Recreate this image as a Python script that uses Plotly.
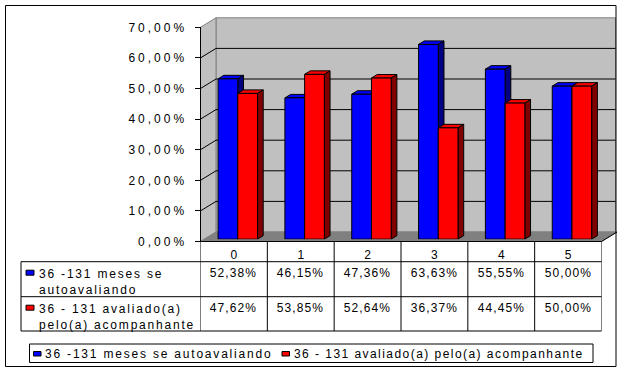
import json
import plotly.graph_objects as go

# ---------------- data ----------------
categories = ["0", "1", "2", "3", "4", "5"]
series_names = ["36 -131 meses se autoavaliando",
                "36 - 131 avaliado(a) pelo(a) acompanhante"]
row_labels = ["36 -131 meses se<br>autoavaliando",
              "36 - 131 avaliado(a)<br>pelo(a) acompanhante"]
autoavaliando = [0.5238, 0.4615, 0.4736, 0.6363, 0.5555, 0.5000]
acompanhante = [0.4762, 0.5385, 0.5264, 0.3637, 0.4445, 0.5000]
y_ticks = [0.0, 0.1, 0.2, 0.3, 0.4, 0.5, 0.6, 0.7]

series = [autoavaliando, acompanhante]
front_colors = ["#0000FF", "#FF0000"]
side_colors = ["#000080", "#800000"]

# ---------------- geometry (pixels) ----------------
W, H = 624, 376
def px(x):
    return x / W
def py(y):
    return 1 - y / H

FX0, FX1 = 200.5, 601.5          # front plane x extent
FY0, FYTOP = 241.5, 27.3          # front plane y of 0% and 70%
DPX, DPY = 15.5, 9.5              # full depth offset
BOFF = 0.25                       # bars' front face depth fraction
BDX, BDY = 5.7, 3.5               # bar depth in pixels
YMAX = 0.7
ypx_per_unit = (FY0 - FYTOP) / YMAX
cat_px = (FX1 - FX0) / len(categories)

BAR_GAP = 0.41
bw = (1 - BAR_GAP) / 2
DX = BDX / cat_px
DY = BDY / ypx_per_unit
BACK_DY = DPY / ypx_per_unit

font = dict(family="Liberation Sans, Arial, sans-serif", size=12, color="black")

fig = go.Figure()

# dummy traces so subplot order is xy, x2y2, x3y3
fig.add_trace(go.Scatter(x=[None], y=[None], xaxis="x", yaxis="y", showlegend=False, hoverinfo="skip"))
fig.add_trace(go.Scatter(x=[None], y=[None], xaxis="x2", yaxis="y2", showlegend=False, hoverinfo="skip"))

for j, vals in enumerate(series):
    fig.add_trace(go.Bar(
        x=list(range(len(categories))), y=vals, name=series_names[j],
        marker=dict(color=front_colors[j], line=dict(color="black", width=1)),
        xaxis="x3", yaxis="y3", showlegend=False))

shapes = []
# walls and floor (paper, lower layer)
shapes.append(dict(type="path", xref="paper", yref="paper", layer="below",
                   path=f"M{px(FX0+DPX)},{py(FYTOP-DPY)} L{px(615.5)},{py(FYTOP-DPY)} "
                        f"L{px(615.5)},{py(FY0-DPY)} L{px(FX0+DPX)},{py(FY0-DPY)} Z",
                   fillcolor="#C0C0C0", line=dict(color="#808080", width=1)))
shapes.append(dict(type="path", xref="paper", yref="paper", layer="below",
                   path=f"M{px(FX0)},{py(FYTOP)} L{px(FX0+DPX)},{py(FYTOP-DPY)} "
                        f"L{px(FX0+DPX)},{py(FY0-DPY)} L{px(FX0)},{py(FY0)} Z",
                   fillcolor="#C0C0C0", line=dict(color="#808080", width=1)))
shapes.append(dict(type="path", xref="paper", yref="paper", layer="below",
                   path=f"M{px(FX0)},{py(FY0)} L{px(FX1)},{py(FY0)} "
                        f"L{px(FX1+DPX)},{py(FY0-DPY)} L{px(FX0+DPX)},{py(FY0-DPY)} Z",
                   fillcolor="#808080", line=dict(color="#808080", width=1)))
shapes.append(dict(type="line", xref="paper", yref="paper", layer="below",
                   x0=px(FX1), y0=py(FY0), x1=px(FX1+DPX), y1=py(FY0-DPY),
                   line=dict(color="black", width=1)))
# gridlines: side wall diagonals (y axis) and back wall (y2 axis)
for t in y_ticks[1:-1]:
    shapes.append(dict(type="line", xref="paper", yref="y", layer="below",
                       x0=px(FX0), y0=t, x1=px(FX0+DPX), y1=t + BACK_DY,
                       line=dict(color="black", width=1)))
    shapes.append(dict(type="line", xref="paper", yref="y2", layer="below",
                       x0=px(FX0+DPX), y0=t, x1=px(615.5), y1=t,
                       line=dict(color="black", width=1)))

# bar 3D faces (x3/y3, below traces)
for j, vals in enumerate(series):
    for i, v in enumerate(vals):
        x0 = i - bw + j * bw
        x1 = x0 + bw
        shapes.append(dict(type="path", xref="x3", yref="y3", layer="below",
                           path=f"M{x0},{v} L{x1},{v} L{x1+DX},{v+DY} L{x0+DX},{v+DY} Z",
                           fillcolor=front_colors[j], line=dict(color="black", width=1)))
        shapes.append(dict(type="path", xref="x3", yref="y3", layer="below",
                           path=f"M{x1},0 L{x1},{v} L{x1+DX},{v+DY} L{x1+DX},{DY} Z",
                           fillcolor=side_colors[j], line=dict(color="black", width=1)))

# data table lines
T_LEFT, T_HEAD, T_R1, T_R2, T_BOT = 21, FY0, 261.7, 296.7, 331
shapes.append(dict(type="line", xref="paper", yref="paper", x0=px(FX0), x1=px(FX1),
                   y0=py(T_HEAD), y1=py(T_HEAD), line=dict(color="black", width=1)))
for yy in (T_R1, T_R2, T_BOT):
    shapes.append(dict(type="line", xref="paper", yref="paper", x0=px(T_LEFT), x1=px(FX1),
                       y0=py(yy), y1=py(yy), line=dict(color="black", width=1)))
shapes.append(dict(type="line", xref="paper", yref="paper", x0=px(T_LEFT), x1=px(T_LEFT),
                   y0=py(T_R1), y1=py(T_BOT), line=dict(color="black", width=1)))
for k in range(len(categories) + 1):
    shapes.append(dict(type="line", xref="x", yref="paper", x0=k - 0.5, x1=k - 0.5,
                       y0=py(T_HEAD), y1=py(T_BOT), line=dict(color="black", width=1)))

annotations = []
row_centers = [273.2, 308.2]
label_centers = [282.3, 316.8]
for j, vals in enumerate(series):
    for i, v in enumerate(vals):
        annotations.append(dict(x=i, xref="x", y=py(row_centers[j]), yref="paper",
                                text=f"{v*100:.2f}%".replace(".", ","), showarrow=False,
                                font=font, xanchor="center", yanchor="middle"))
    annotations.append(dict(x=px(37), xref="paper", y=py(label_centers[j]), yref="paper",
                            text=row_labels[j], showarrow=False, font=font, align="left",
                            xanchor="left", yanchor="middle"))
    iy = row_centers[j] - 0.5
    shapes.append(dict(type="rect", xref="paper", yref="paper",
                       x0=px(26), x1=px(34), y0=py(iy - 2.5), y1=py(iy + 2.5),
                       fillcolor=front_colors[j], line=dict(color="black", width=1)))

# legend (manual)
LEG_Y = 354
shapes.append(dict(type="rect", xref="paper", yref="paper",
                   x0=px(29.5), x1=px(593), y0=py(344), y1=py(362.5),
                   line=dict(color="black", width=1), fillcolor="rgba(0,0,0,0)"))
leg_icon_x = [33.5, 282]
for j in range(2):
    shapes.append(dict(type="rect", xref="paper", yref="paper",
                       x0=px(leg_icon_x[j]), x1=px(leg_icon_x[j] + 7.5),
                       y0=py(LEG_Y - 2.5), y1=py(LEG_Y + 2),
                       fillcolor=front_colors[j], line=dict(color="black", width=1)))
    annotations.append(dict(x=px(leg_icon_x[j] + 9.5), xref="paper", y=py(LEG_Y), yref="paper",
                            text=series_names[j], showarrow=False, font=font, align="left",
                            xanchor="left", yanchor="middle"))

# outer border
shapes.append(dict(type="rect", xref="paper", yref="paper",
                   x0=px(5.5), x1=px(616), y0=py(5.5), y1=py(366.5),
                   line=dict(color="black", width=1), fillcolor="rgba(0,0,0,0)"))

fig.update_layout(
    width=W, height=H, margin=dict(l=0, r=0, t=0, b=0, autoexpand=False),
    paper_bgcolor="white", plot_bgcolor="rgba(0,0,0,0)",
    separators=",.", barmode="group", bargap=BAR_GAP, bargroupgap=0,
    showlegend=False, font=font,
    xaxis=dict(domain=[px(FX0), px(FX1)], range=[-0.5, len(categories) - 0.5],
               tickvals=list(range(len(categories))), ticktext=categories,
               ticks="", showline=False, showgrid=False, zeroline=False,
               ticklabelstandoff=4, tickfont=font, anchor="y", fixedrange=True),
    yaxis=dict(domain=[py(FY0), py(FYTOP)], range=[0, YMAX], tickvals=y_ticks,
               tickformat=".2%", ticks="outside", ticklen=5, tickcolor="black",
               showline=True, linecolor="black", linewidth=1, showgrid=False,
               zeroline=False, tickfont=font, ticklabelstandoff=5, anchor="x", fixedrange=True),
    xaxis2=dict(domain=[px(FX0 + DPX), px(FX1 + DPX)], range=[-0.5, len(categories) - 0.5],
                visible=False, anchor="y2", fixedrange=True),
    yaxis2=dict(domain=[py(FY0 - DPY), py(FYTOP - DPY)], range=[0, YMAX],
                visible=False, anchor="x2", fixedrange=True),
    xaxis3=dict(domain=[px(FX0 + BOFF * DPX), px(FX1 + BOFF * DPX)], range=[-0.5, len(categories) - 0.5],
                visible=False, anchor="y3", fixedrange=True),
    yaxis3=dict(domain=[py(FY0 - BOFF * DPY), py(FYTOP - BOFF * DPY)], range=[0, YMAX],
                visible=False, anchor="x3", fixedrange=True),
    shapes=shapes, annotations=annotations,
)

post = """
document.body.style.margin='0px';
document.body.style.overflow='hidden';
function sp(sel, v){document.querySelectorAll(sel).forEach(function(t){t.style.letterSpacing=v;});}
sp('.ytick text','3px');
sp('.annotation-text','1.8px');
var leg2 = %s;
document.querySelectorAll('.annotation-text').forEach(function(t){
  if(/%%$/.test(t.textContent)){t.style.letterSpacing='1.1px';}
  if(t.textContent === leg2){t.style.letterSpacing='1.45px';}
});
""" % json.dumps(series_names[1])

fig.write_html("out.html", config=dict(displayModeBar=False, staticPlot=True, responsive=False),
               post_script=post)
